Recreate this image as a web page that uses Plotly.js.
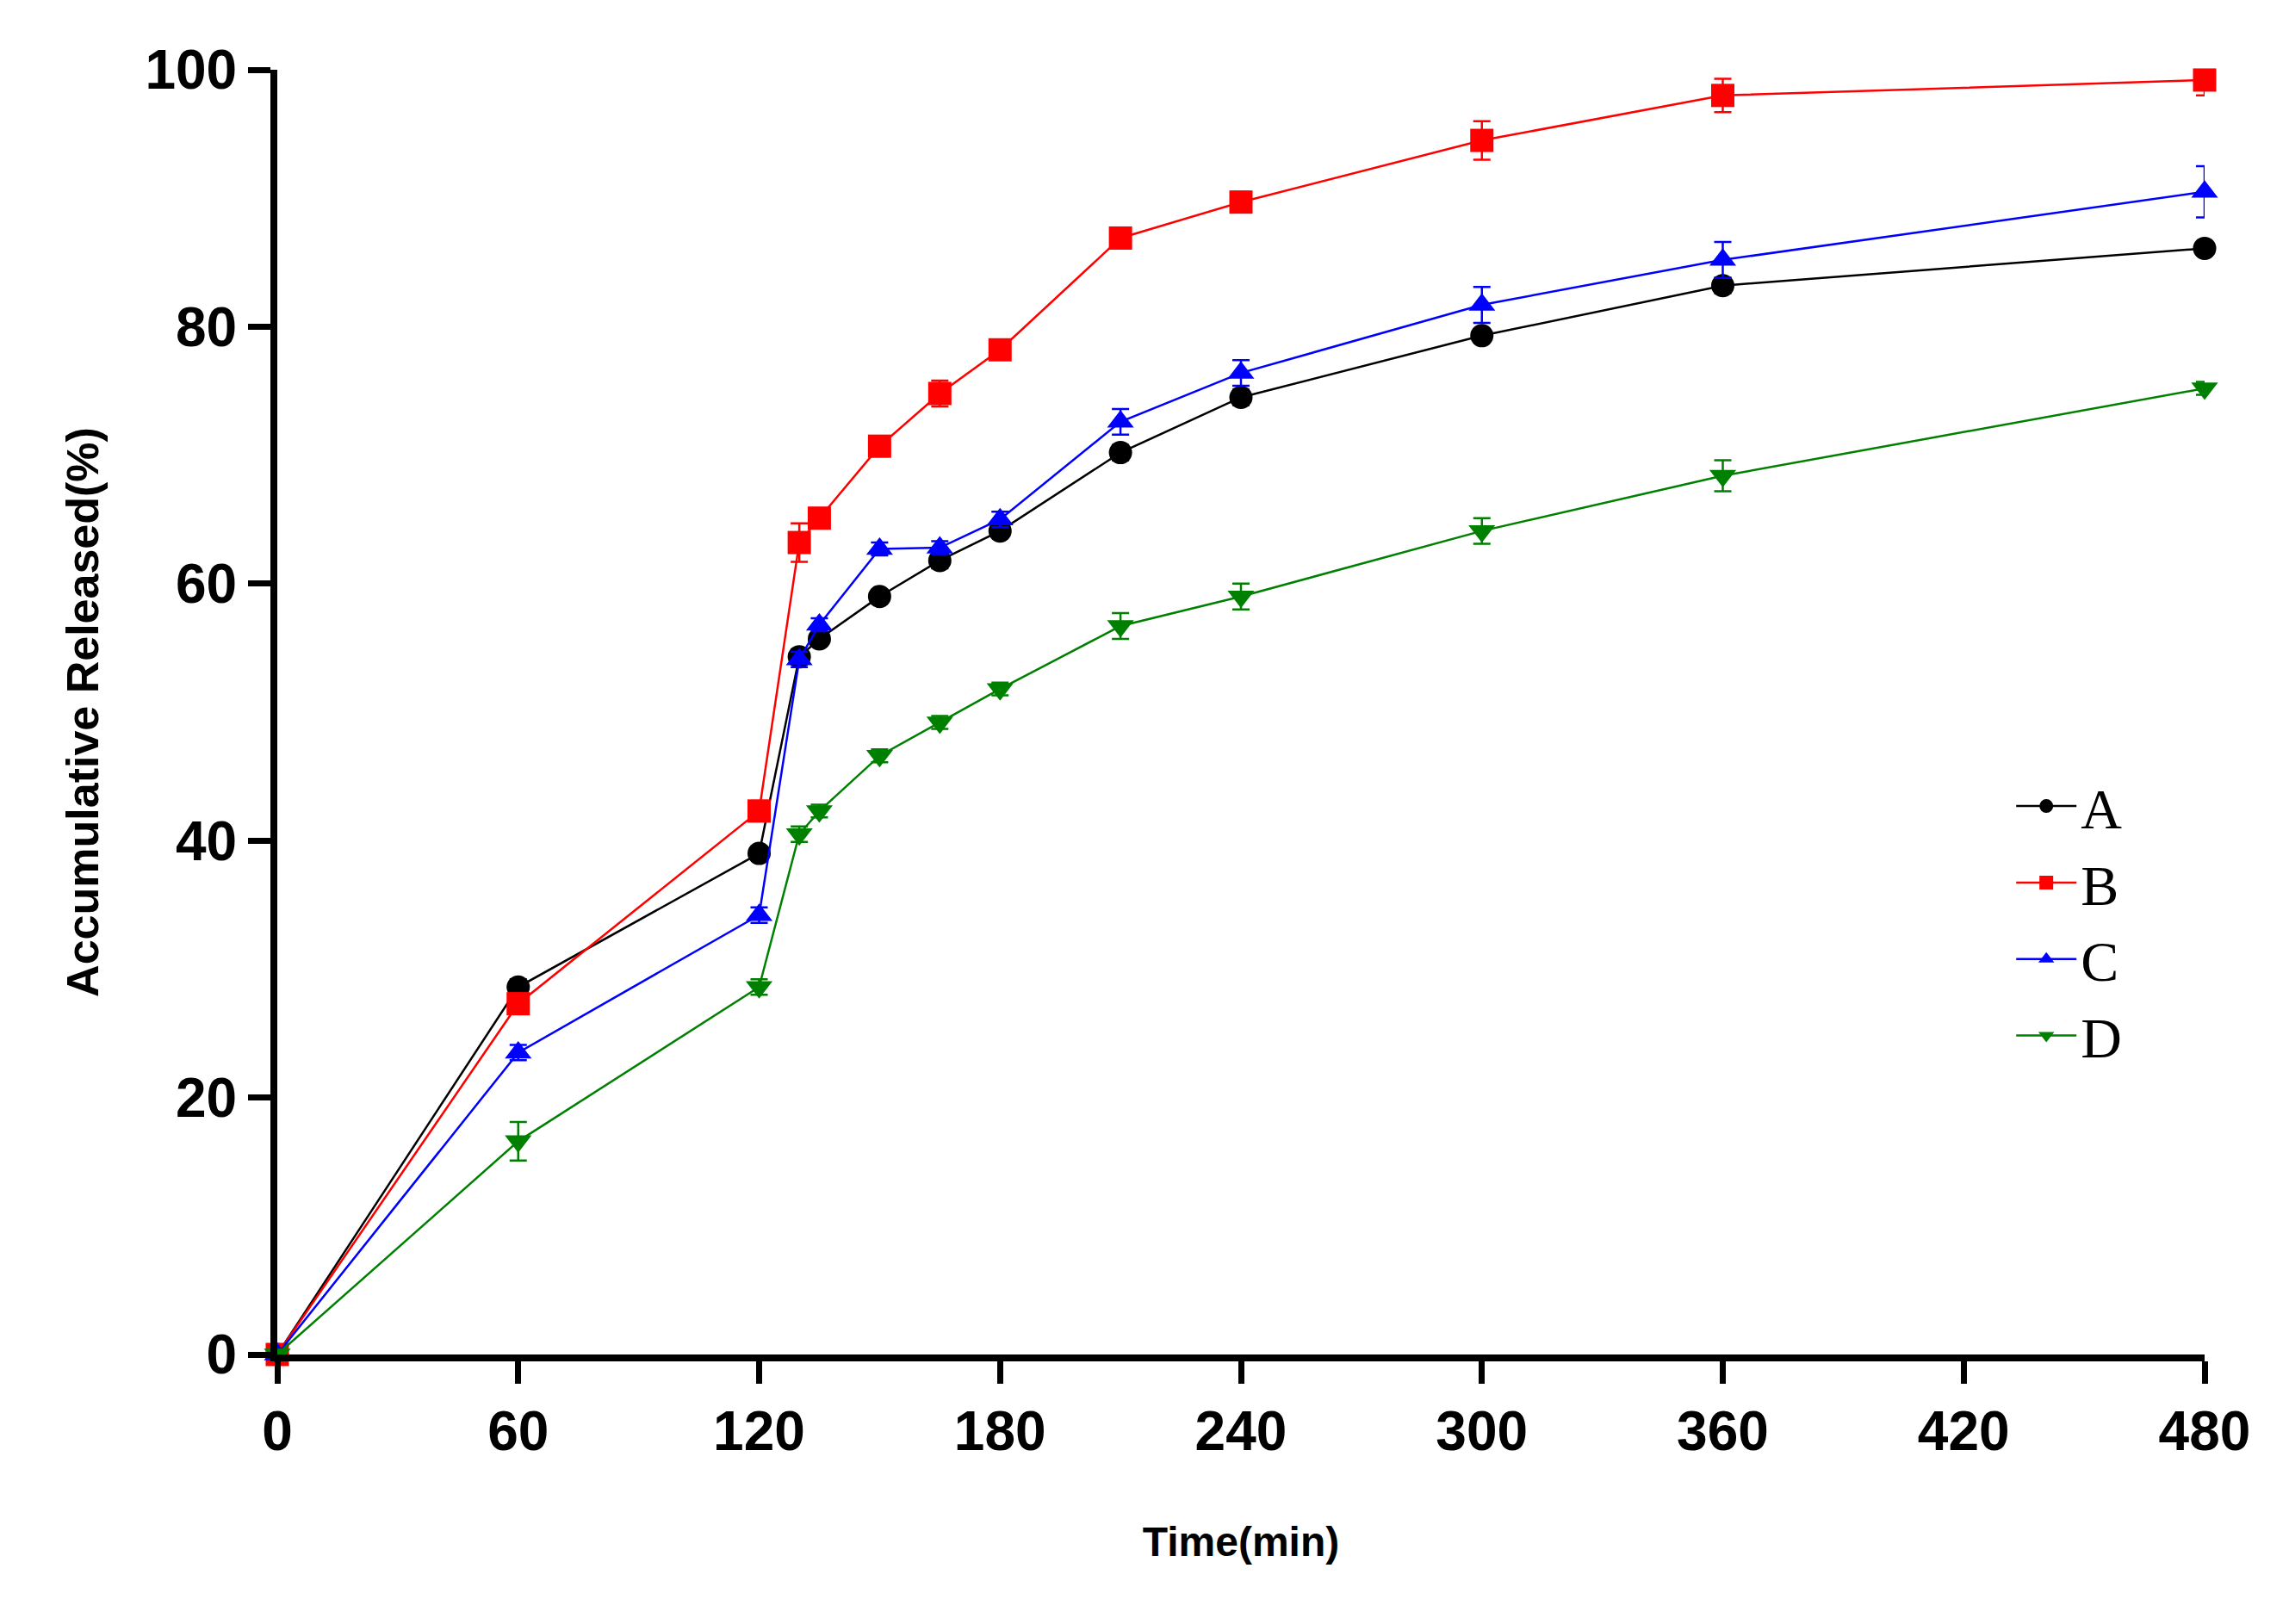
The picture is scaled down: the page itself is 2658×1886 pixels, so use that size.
<!DOCTYPE html>
<html>
<head>
<meta charset="utf-8">
<script src="https://cdn.plot.ly/plotly-3.0.1.min.js"></script>
<style>html,body{margin:0;padding:0;background:#fff}</style>
</head>
<body>
<div id="chart" style="width:2658px;height:1886px"></div>
<script>
// 时间点 (min)
const time = [0, 60, 120, 130, 135, 150, 165, 180, 210, 240, 300, 360, 480];

// 各组累计释放 (%)
const seriesA = [0, 28.6, 39.0, 54.3, 55.7, 59.0, 61.8, 64.1, 70.2, 74.5, 79.3, 83.2, 86.1];
const seriesB = [0, 27.3, 42.3, 63.2, 65.1, 70.7, 74.8, 78.2, 86.9, 89.7, 94.5, 98.0, 99.2];
const seriesC = [0, 23.5, 34.2, 54.1, 56.8, 62.7, 62.8, 65.0, 72.6, 76.4, 81.7, 85.2, 90.5];
const seriesD = [0, 16.6, 28.6, 40.5, 42.3, 46.6, 49.2, 51.8, 56.7, 59.0, 64.1, 68.4, 75.2];

// 误差 (SD)
const errA = [0, 0.6, 0.5, 0.6, 0.5, 0.5, 0.6, 0.5, 0.6, 0.6, 0.5, 0.6, 0.5];
const errB = [0, 0.8, 0.8, 1.5, 0.6, 0.8, 1.0, 0.6, 0.6, 0.8, 1.5, 1.3, 1.2];
const errC = [0, 0.6, 0.6, 0.6, 0.5, 0.5, 0.5, 0.6, 1.0, 1.0, 1.4, 1.4, 2.0];
const errD = [0, 1.5, 0.6, 0.6, 0.5, 0.5, 0.5, 0.5, 1.0, 1.0, 1.0, 1.2, 0.5];

const names = ['A', 'B', 'C', 'D'];
const colors = ['#000000', '#ff0000', '#0000ff', '#008000'];
const symbols = ['circle', 'square', 'triangle-up', 'triangle-down'];
const values = [seriesA, seriesB, seriesC, seriesD];
const errors = [errA, errB, errC, errD];

const traces = names.map((n, i) => ({
    type: 'scatter',
    mode: 'lines+markers',
    name: n,
    x: time,
    y: values[i],
    error_y: { type: 'data', array: errors[i], visible: true, color: colors[i], thickness: 2.5, width: 10 },
    line: { color: colors[i], width: 2.5 },
    marker: { color: colors[i], symbol: symbols[i], size: 27 },
    cliponaxis: false
}));

const layout = {
    width: 2658,
    height: 1886,
    margin: { l: 322, r: 98, t: 81, b: 313 },
    paper_bgcolor: '#fff',
    plot_bgcolor: '#fff',
    font: { family: 'Liberation Sans, Arial, sans-serif', color: '#000' },
    showlegend: true,
    legend: {
        x: 0.9, y: 0.46, xanchor: 'left', yanchor: 'top',
        font: { family: 'Liberation Serif, Times New Roman, serif', size: 66, color: '#000' },
        itemwidth: 70,
        tracegroupgap: 40,
        bgcolor: 'rgba(0,0,0,0)'
    },
    xaxis: {
        range: [0, 480],
        tickvals: [0, 60, 120, 180, 240, 300, 360, 420, 480],
        showgrid: false, zeroline: false,
        showline: true, linecolor: '#000', linewidth: 8,
        ticks: 'outside', ticklen: 26, tickwidth: 7, tickcolor: '#000',
        tickfont: { size: 64, family: 'Liberation Sans, Arial', weight: 'bold' },
        title: { text: '<b>Time(min)</b>', font: { size: 48 }, standoff: 80 }
    },
    yaxis: {
        range: [0, 100],
        tickvals: [0, 20, 40, 60, 80, 100],
        showgrid: false, zeroline: false,
        showline: true, linecolor: '#000', linewidth: 8,
        ticks: 'outside', ticklen: 26, tickwidth: 7, tickcolor: '#000',
        tickfont: { size: 64, family: 'Liberation Sans, Arial', weight: 'bold' },
        title: { text: '<b>Accumulative Released(%)</b>', font: { size: 52 }, standoff: 40 }
    }
};

Plotly.newPlot('chart', traces, layout, { displayModeBar: false, staticPlot: true });
</script>
</body>
</html>
